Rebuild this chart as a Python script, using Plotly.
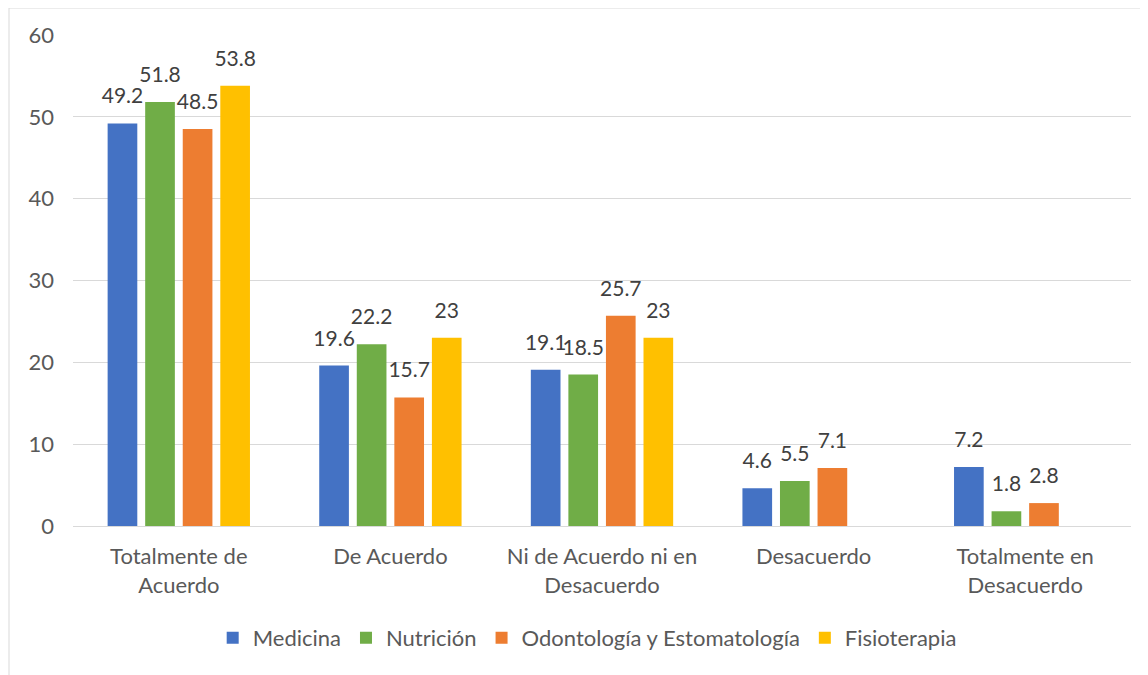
import plotly.graph_objects as go

categories = ["Totalmente de<br>Acuerdo", "De Acuerdo", "Ni de Acuerdo ni en<br>Desacuerdo",
              "Desacuerdo", "Totalmente en<br>Desacuerdo"]
series_names = ["Medicina", "Nutrición", "Odontología y Estomatología", "Fisioterapia"]
medicina = [49.2, 19.6, 19.1, 4.6, 7.2]
nutricion = [51.8, 22.2, 18.5, 5.5, 1.8]
odontologia = [48.5, 15.7, 25.7, 7.1, 2.8]
fisioterapia = [53.8, 23, 23, None, None]
colors = ["#4472C4", "#70AD47", "#ED7D31", "#FFC000"]
y_ticks = [0, 10, 20, 30, 40, 50, 60]

FONT = "Lato"
FS = 22
LABEL_FS = 21
LABEL_PAD = 1.6  # extra space (data units) between bar top and its label, like Excel

fig = go.Figure()
for i, (name, vals, col) in enumerate(zip(series_names,
                                          [medicina, nutricion, odontologia, fisioterapia], colors)):
    fig.add_trace(go.Bar(
        x=categories, y=vals, name=name, marker_color=col, offsetgroup=str(i),
        marker_line_width=0,
    ))
    # invisible spacer carrying the data label above each bar
    fig.add_trace(go.Bar(
        x=categories, y=[(None if v is None else LABEL_PAD) for v in vals],
        base=[(None if v is None else v) for v in vals],
        offsetgroup=str(i), showlegend=False, hoverinfo="skip",
        marker=dict(color="rgba(0,0,0,0)", line_width=0),
        text=[("" if v is None else f"{v:g}") for v in vals],
        textposition="outside", cliponaxis=False, constraintext="none",
        textfont=dict(family=FONT, size=LABEL_FS, color="#404040"),
    ))

W, H = 1140, 667  # page body adds an 8px offset
fig.update_layout(
    width=W, height=H,
    margin=dict(l=65, r=17, t=27, b=149),
    paper_bgcolor="white", plot_bgcolor="white",
    barmode="group", bargap=0.29, bargroupgap=0.21,
    font=dict(family=FONT, size=FS, color="#595959"),
    showlegend=True,
    legend=dict(orientation="h", x=0.486, xanchor="center", y=-0.228, yanchor="middle",
                font=dict(family=FONT, size=FS, color="#595959"),
                itemwidth=30, tracegroupgap=0),
    xaxis=dict(showgrid=False, showline=True, linecolor="#d9d9d9", linewidth=1,
               ticks="", ticklabelstandoff=11,
               tickfont=dict(family=FONT, size=FS, color="#595959")),
    yaxis=dict(range=[0, 60], tickvals=y_ticks, showgrid=True, gridcolor="#d9d9d9",
               gridwidth=1, zeroline=False, showline=False, ticks="",
               ticklabelstandoff=18,
               tickfont=dict(family=FONT, size=FS, color="#595959"),
               automargin=False),
)
# chart-area border (top and left visible in the reference)
fig.add_shape(type="line", xref="paper", yref="paper",
              x0=(1 - 65) / 1058, x1=1.1, y0=518 / 491, y1=518 / 491,
              line=dict(color="#d9d9d9", width=1))
fig.add_shape(type="line", xref="paper", yref="paper",
              x0=(1 - 65) / 1058, x1=(1 - 65) / 1058, y0=518 / 491, y1=-0.4,
              line=dict(color="#d9d9d9", width=1))

fig.write_html("out.html")
